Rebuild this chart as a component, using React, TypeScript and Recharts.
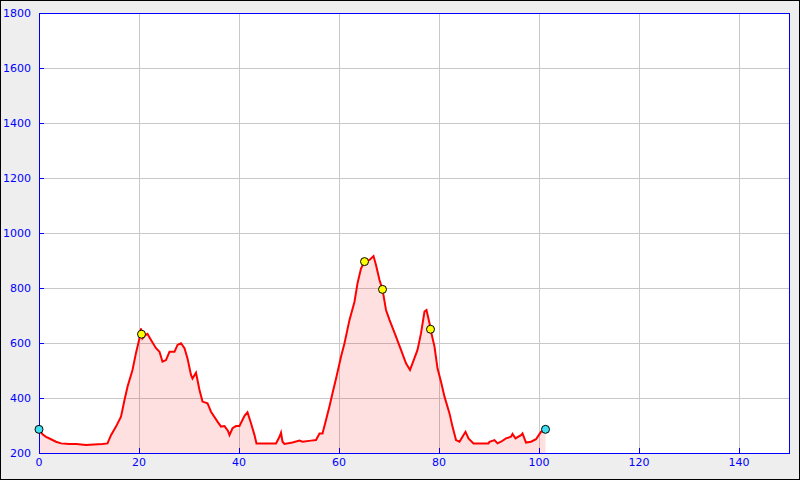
import { ComposedChart, Area, XAxis, YAxis, CartesianGrid, ReferenceArea, ReferenceDot } from "recharts"

// distance (km) and elevation (m) along the track
const dist = [
  0, 0.7, 1.4, 2.4, 3.4, 4.4, 6, 7.5, 9.4, 11, 12.7, 13.7, 14.4, 15.4, 16.4, 17.1, 17.7, 18.7, 19.4, 20.1,
  20.4, 20.7, 21.2, 21.7, 22.4, 23.4, 24.1, 24.7, 25.4, 26.1, 27.1, 27.7, 28.4, 29.1, 29.7, 30.4, 30.7, 31.4,
  32.1, 32.7, 33.7, 34.4, 35.7, 36.4, 37.1, 37.8, 38.1, 38.7, 39.4, 40.1, 41.1, 41.7, 42.4, 43.1, 43.5, 46.1,
  47.4, 48.1, 48.4, 48.7, 49.1, 50.7, 52.1, 52.7, 54.4, 55.4, 56.1, 56.7, 57.4, 58.1, 58.7, 59.4, 60.4, 61.1,
  62.1, 63.1, 63.7, 64.4, 65.1, 66.1, 66.9, 67.4, 68.1, 68.7, 69.4, 70.1, 71.4, 72.4, 73.4, 74.2, 74.7, 75.7,
  76.4, 77.1, 77.5, 78.1, 78.3, 79.1, 79.7, 80.4, 81.1, 82.1, 82.7, 83.4, 84.1, 84.7, 85.3, 85.9, 86.9, 89.9,
  90.1, 91.1, 91.7, 92.4, 93.4, 94.4, 94.7, 95.3, 96.4, 96.7, 97.4, 98.4, 99.4, 100.4, 101.3,
]
const elev = [
  286, 268, 259, 250, 241, 235, 233, 233, 229, 231, 233, 235, 265, 296, 332, 393, 441, 502, 564, 617,
  653, 617, 628, 633, 611, 581, 568, 532, 538, 568, 568, 593, 599, 581, 544, 484, 471, 492,
  429, 387, 381, 350, 314, 296, 298, 280, 265, 290, 298, 298, 335, 348, 308, 265, 235, 235,
  235, 259, 274, 241, 233, 238, 245, 241, 245, 247, 271, 271, 320, 370, 417, 470, 550, 599,
  684, 750, 817, 871, 896, 902, 916, 884, 829, 795, 720, 684, 623, 575, 526, 502, 526, 575,
  635, 714, 720, 672, 650, 587, 508, 459, 405, 344, 296, 247, 241, 259, 277, 253, 235, 235,
  241, 247, 235, 241, 253, 259, 269, 253, 265, 271, 238, 241, 250, 277, 286,
]

// start / finish markers and waypoints
const endX = [0, 101.3]
const endY = [286, 286]
const wpX = [20.5, 65.1, 68.7, 78.3]
const wpY = [632, 896, 795, 650]

const xTicks = [0, 20, 40, 60, 80, 100, 120, 140]
const yTicks = [200, 400, 600, 800, 1000, 1200, 1400, 1600, 1800]

const data = dist.map((d, i) => ({ d, e: elev[i] }))

const tickStyle = { fill: "#0000ff", fontSize: 11, fontFamily: "DejaVu Sans" }

const css = `
.recharts-cartesian-grid line,
.recharts-cartesian-axis-line,
.recharts-cartesian-axis-tick-line,
.recharts-reference-area-rect { shape-rendering: crispEdges; }
`

export default function App() {
  return (
    <div
      style={{
        position: "absolute",
        left: 0,
        top: 0,
        width: 800,
        height: 480,
        boxSizing: "border-box",
        border: "1px solid #000",
        background: "#eeeeee",
      }}
    >
      <style>{css}</style>
      <ComposedChart width={798} height={478} data={data} margin={{ top: 12, right: 10, bottom: 0, left: 0 }}>
        <CartesianGrid stroke="#c8c8c8" fill="#ffffff" />
        <XAxis
          dataKey="d"
          type="number"
          domain={[0, 150]}
          ticks={xTicks}
          height={26}
          tick={tickStyle}
          stroke="#0000ff"
          tickSize={-5}
          tickMargin={10}
          allowDataOverflow
        />
        <YAxis
          type="number"
          domain={[200, 1800]}
          ticks={yTicks}
          width={38}
          tick={tickStyle}
          stroke="#0000ff"
          tickSize={-5}
          tickMargin={13}
          allowDataOverflow
        />
        <Area
          dataKey="e"
          type="linear"
          stroke="#ff0000"
          strokeWidth={2}
          fill="#ff0000"
          fillOpacity={0.12}
          dot={false}
          activeDot={false}
          isAnimationActive={false}
        />
        <ReferenceArea x1={0} x2={150} y1={200} y2={1800} stroke="#0000ff" fill="none" />
        {endX.map((x, i) => (
          <ReferenceDot key={"e" + i} x={x} y={endY[i]} r={4} fill="#40e0f0" stroke="#000" strokeWidth={1} />
        ))}
        {wpX.map((x, i) => (
          <ReferenceDot key={"w" + i} x={x} y={wpY[i]} r={4} fill="#ffff00" stroke="#000" strokeWidth={1} />
        ))}
      </ComposedChart>
    </div>
  )
}
